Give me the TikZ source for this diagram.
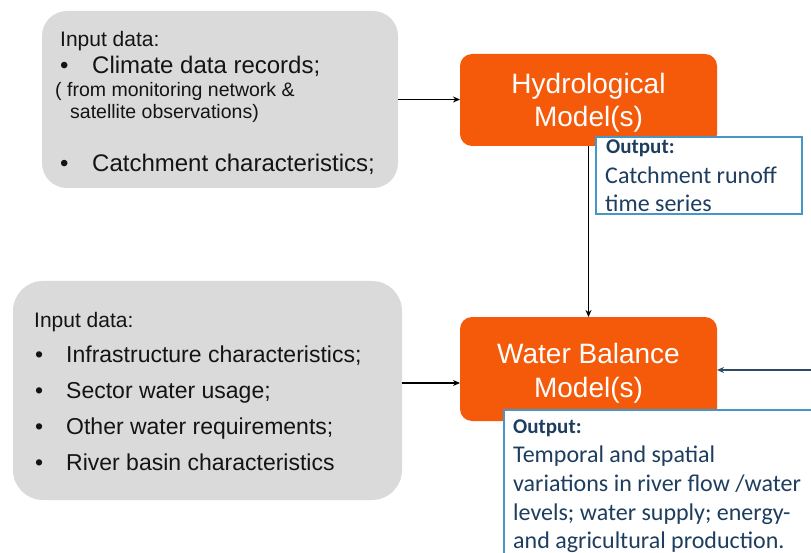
\documentclass[tikz,border=0pt]{standalone}
\usepackage{fontspec}
\setmainfont{Liberation Sans}
\newfontfamily\calibrifont{Carlito}
\usetikzlibrary{arrows.meta}
\definecolor{modelorange}{RGB}{245,90,10}
\definecolor{inputgray}{RGB}{218,218,218}
\definecolor{outborder}{RGB}{70,150,200}
\definecolor{outtext}{RGB}{30,62,96}
\definecolor{feedline}{RGB}{45,75,100}

\begin{document}
\begin{tikzpicture}[x=1pt,y=-1pt,
  inbox/.style={fill=inputgray, draw=none, inner sep=0, outer sep=0},
  model/.style={fill=modelorange, rounded corners=12pt, inner sep=0, outer sep=0,
    minimum width=257pt},
  modeltext/.style={anchor=base, inner sep=0, text=white, font=\fontsize{28}{35}\selectfont},
  outbox/.style={draw=outborder, line width=1.3pt, fill=white, inner sep=0, outer sep=0},
  intext/.style={anchor=base west, inner sep=0, text=black!92},
  bigin/.style={intext, font=\fontsize{24}{28}\selectfont},
  midin/.style={intext, font=\fontsize{23}{28}\selectfont},
  headin/.style={intext, font=\fontsize{21}{25}\selectfont},
  smallin/.style={intext, font=\fontsize{19.5}{23}\selectfont},
  outhead/.style={anchor=base west, inner sep=0, text=outtext, font=\calibrifont\bfseries\fontsize{21}{25}\selectfont},
  outline/.style={anchor=base west, inner sep=0, text=outtext, font=\calibrifont\fontsize{24}{28}\selectfont},
  conn/.style={-{Stealth[length=7pt,width=6pt]}, line width=1.2pt, black}
]
\clip (0,0) rectangle (811,553);
\fill[white] (0,0) rectangle (811,553);

% input data boxes
\node[inbox, rounded corners=25pt, minimum width=356pt, minimum height=177pt] (in1) at (220,99.5) {};
\node[inbox, rounded corners=30pt, minimum width=389pt, minimum height=219pt] (in2) at (207.5,390.5) {};

% model boxes and their labels
\node[model, minimum height=92pt] (hydro) at (588.5,100) {};
\node[model, minimum height=104pt] (wb) at (588.5,369) {};
\node[modeltext] (h1) at (588.5,93.5) {Hydrological};
\node[modeltext] (h2) at (588.5,127) {Model(s)};
\node[modeltext] (w1) at (588.5,363) {Water Balance};
\node[modeltext] (w2) at (588.5,397) {Model(s)};

% connectors
\draw[conn] (in1.east) -- (in1.east -| hydro.west);
\draw[conn] ([yshift=7.5pt]in2.east) -- ([yshift=7.5pt]in2.east -| wb.west);
\draw[conn] (hydro.south) -- (wb.north);
\coordinate (feed) at (811,370);
\draw[-{Stealth[length=7pt,width=6pt]}, line width=1.2pt, feedline] (feed) -- (feed -| wb.east);

% output boxes
\node[outbox, minimum width=206pt, minimum height=77pt] (out1) at (699,175.5) {};
\node[outbox, minimum width=326pt, minimum height=160pt] (out2) at (667,490) {};

% first input list
\node[headin] (a0) at (60,47) {Input data:};
\node[bigin] (a1b) at (60,74) {\textbullet};
\node[bigin] (a1) at (92,74) {Climate data records;};
\node[smallin] (a2) at (55,97) {( from monitoring network \&};
\node[smallin] (a3) at (70,118.5) {satellite observations)};
\node[bigin] (a4b) at (60,171.5) {\textbullet};
\node[bigin] (a4) at (92,171.5) {Catchment characteristics;};

% second input list
\node[headin] (b0) at (34,327) {Input data:};
\node[midin] (b1b) at (35,362.5) {\textbullet};
\node[midin] (b1) at (66,362.5) {Infrastructure characteristics;};
\node[midin] (b2b) at (35,398.5) {\textbullet};
\node[midin] (b2) at (66,398.5) {Sector water usage;};
\node[midin] (b3b) at (35,434.5) {\textbullet};
\node[midin] (b3) at (66,434.5) {Other water requirements;};
\node[midin] (b4b) at (35,470.5) {\textbullet};
\node[midin] (b4) at (66,470.5) {River basin characteristics};

% output texts
\node[outhead] (o1h) at (606,154) {Output:};
\node[outline] (o1a) at (605,184) {Catchment runoff};
\node[outline] (o1b) at (605,211.5) {time series};

\node[outhead] (o2h) at (513,433.5) {Output:};
\node[outline] (o2a) at (513,462.5) {Temporal and spatial};
\node[outline] (o2b) at (513,491.5) {variations in river flow /water};
\node[outline] (o2c) at (513,520) {levels; water supply; energy-};
\node[outline] (o2d) at (513,548) {and agricultural production.};
\end{tikzpicture}
\end{document}
